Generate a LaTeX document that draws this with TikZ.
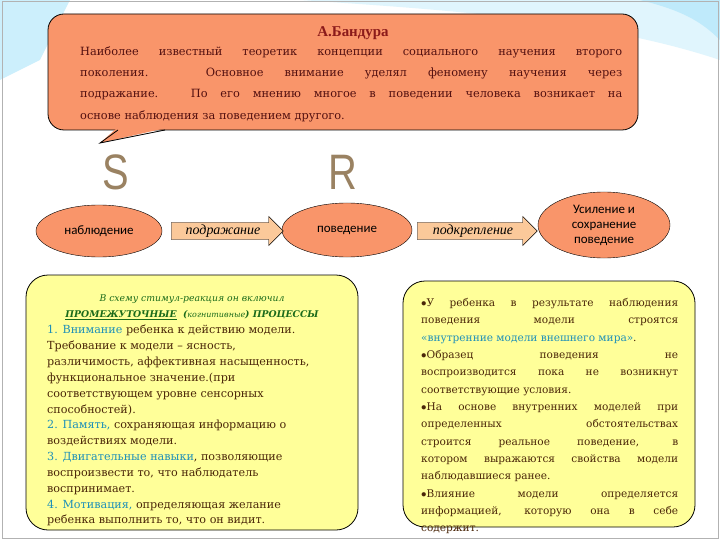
\documentclass[tikz,border=0pt]{standalone}
\usepackage{fontspec}
\setmainfont{DejaVu Serif}
\newfontfamily\calib{Carlito}
\newfontfamily\lsans{Liberation Sans}
\newfontfamily\lserif{Liberation Serif}
\usetikzlibrary{shapes.geometric,shapes.arrows}
\definecolor{salmon}{HTML}{F9956A}
\definecolor{lightsal}{HTML}{FBC99A}
\definecolor{yel}{HTML}{FFFF99}
\definecolor{brn}{HTML}{4A2608}
\definecolor{blu}{HTML}{1E90B8}
\definecolor{grn}{HTML}{1A6A1A}
\definecolor{ttl}{HTML}{8B1A1A}
\definecolor{letter}{HTML}{9A8262}
\tikzset{
  oval/.style={ellipse,draw=black,fill=salmon,font=\calib\fontsize{13}{15}\selectfont,align=center,inner sep=1bp},
  arr/.style={single arrow,draw=black,fill=lightsal,single arrow head extend=6bp,minimum width=28bp,inner sep=2bp,font=\lserif\itshape\fontsize{14}{16}\selectfont,single arrow tip angle=90},
  ybox/.style={draw=black,fill=yel,rounded corners=22bp,line width=0.8pt},
  bigl/.style={font=\lsans\fontsize{50}{50}\selectfont,text=letter,xscale=0.8}
}
\begin{document}
\begin{tikzpicture}[x=1bp,y=-1bp]
\useasboundingbox (0,0) rectangle (720,540);
\fill[white] (0,0) rectangle (720,540);
% background swoosh
\fill[cyan!12] (0,0) -- (720,0) -- (720,60) .. controls (600,20) and (450,10) .. (300,0) -- cycle;
\fill[cyan!25] (640,0) -- (720,0) -- (720,40) .. controls (700,20) and (680,10) .. (640,0) -- cycle;
\fill[cyan!20] (0,0) -- (70,0) -- (40,60) -- (0,80) -- cycle;
\draw[gray!60,line width=1pt] (2,2) rectangle (718,538);
% callout
\draw[fill=salmon,line width=0.8pt,rounded corners=16bp] (48,14) rectangle (638,130);
\fill[salmon] (117,128) -- (100,143) -- (166,128) -- cycle;
\draw[line width=0.8pt] (118,130) -- (100,143) -- (165,130);
\node[text=ttl,font=\lserif\bfseries\fontsize{15}{17}\selectfont] (title) at (353,33) {А.Бандура};
\node[text=ttl!60!black,text width=542bp,align=justify,font=\fontsize{11.4}{21.5}\selectfont,inner sep=0pt,anchor=north west] (intro) at (80,46)
 {Наиболее известный теоретик концепции социального научения второго\linebreak поколения. Основное внимание уделял феномену научения через\linebreak подражание. По его мнению многое в поведении человека возникает на\linebreak основе наблюдения за поведением другого.};
% S R
\node[bigl] (S) at (116,172) {S};
\node[bigl] (R) at (343,172) {R};
% row
\node[oval,minimum width=126bp,minimum height=52bp] (e1) at (99,231) {наблюдение};
\node[oval,minimum width=130bp,minimum height=54bp] (e2) at (347,230) {поведение};
\node[oval,minimum width=132bp,minimum height=66bp] (e3) at (604,225) {Усиление и\\сохранение\\поведение};
\node[arr,minimum height=112bp] (a1) at (223,231) {подражание\hspace{22bp}};
\node[arr,minimum height=120bp] (a2) at (473,231) {подкрепление\hspace{20bp}};
% left box
\draw[ybox] (26,275) rectangle (358,530);
\node[align=center,text=grn,font=\itshape\fontsize{9.3}{16}\selectfont,anchor=north] (lhead) at (192,291)
 {В схему стимул-реакция он включил\\ \textbf{\underline{ПРОМЕЖУТОЧНЫЕ} \ (\textmd{\fontsize{8}{10}\selectfont когнитивные})\ ПРОЦЕССЫ}};
\node[align=left,text=brn,font=\fontsize{11.2}{15.9}\selectfont,anchor=north west,inner sep=0pt] (ltext) at (47,325)
 {\textcolor{blu}{1. Внимание} ребенка к действию модели.\\
 Требование к модели -- ясность,\\
 различимость, аффективная насыщенность,\\
 функциональное значение.(при\\
 соответствующем уровне сенсорных\\
 способностей).\\
 \textcolor{blu}{2. Память,} сохраняющая информацию о\\
 воздействиях модели.\\
 \textcolor{blu}{3. Двигательные навыки}, позволяющие\\
 воспроизвести то, что наблюдатель\\
 воспринимает.\\
 \textcolor{blu}{4. Мотивация,} определяющая желание\\
 ребенка выполнить то, что он видит.};
% right box
\draw[ybox] (403,281) rectangle (695,527);
\node[text=brn,text width=257bp,align=justify,font=\fontsize{10.6}{17.4}\selectfont,anchor=north west,inner sep=0pt] (rtext) at (421,298)
 {$\bullet$У ребенка в результате наблюдения\linebreak поведения модели строятся\linebreak \textcolor{blu}{«внутренние модели внешнего мира»}.\\
 $\bullet$Образец поведения не\linebreak воспроизводится пока не возникнут\linebreak соответствующие условия.\\
 $\bullet$На основе внутренних моделей при\linebreak определенных обстоятельствах\linebreak строится реальное поведение, в\linebreak котором выражаются свойства модели\linebreak наблюдавшиеся ранее.\\
 $\bullet$Влияние модели определяется\linebreak информацией, которую она в себе\linebreak содержит.};
\end{tikzpicture}
\end{document}
